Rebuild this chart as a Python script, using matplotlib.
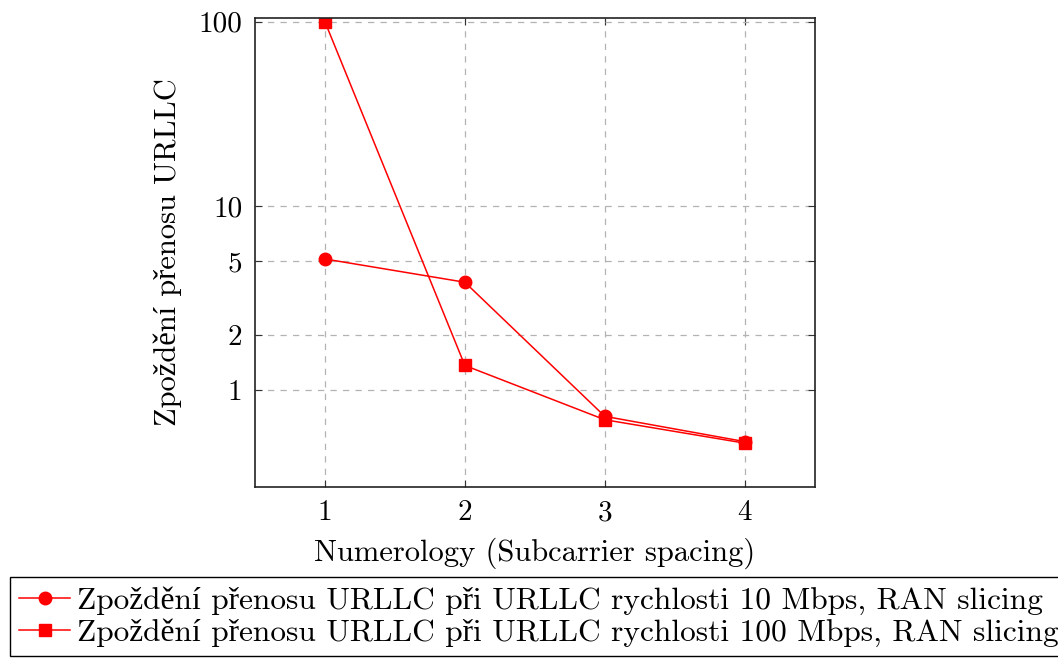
import matplotlib
matplotlib.use('Agg')
import matplotlib.pyplot as plt
import numpy as np

plt.rcParams['font.family'] = ['cmr10', 'Liberation Serif', 'DejaVu Serif']
plt.rcParams['mathtext.fontset'] = 'cm'
plt.rcParams['axes.formatter.use_mathtext'] = True

# data
numerology = [1, 2, 3, 4]
delay_10 = [5.15, 3.85, 0.72, 0.525]
delay_100 = [100, 1.36, 0.69, 0.515]
labels = ['Zpoždění přenosu URLLC při URLLC rychlosti 10 Mbps, RAN slicing',
          'Zpoždění přenosu URLLC při URLLC rychlosti 100 Mbps, RAN slicing']
yticks = [1, 2, 5, 10, 100]

fig = plt.figure(figsize=(10.58, 6.61), dpi=100)
ax = fig.add_axes([0.241, 0.263, 0.529, 0.710])

ax.plot(numerology, delay_10, c='red', lw=1.1, marker='o', ms=9, label=labels[0])
ax.plot(numerology, delay_100, c='red', lw=1.1, marker='s', ms=9, label=labels[1])

ax.set_yscale('log')
ax.set_xlim(0.5, 4.5)
ax.set_ylim(0.297, 105)
ax.set_xticks(numerology)
ax.set_xticklabels([str(n) for n in numerology])
ax.set_yticks(yticks)
ax.set_yticklabels([str(t) for t in yticks])
ax.yaxis.set_minor_locator(matplotlib.ticker.NullLocator())
ax.grid(True, ls=(0, (5, 5)), c='#b3b3b3', lw=0.9)
ax.set_axisbelow(True)
ax.tick_params(direction='in', top=True, right=True, length=5, labelsize=21, pad=9, color='#333333')
for s in ax.spines.values():
    s.set_linewidth(1.2)
    s.set_color('#222222')

ax.set_xlabel('Numerology (Subcarrier spacing)', fontsize=22, labelpad=8)
ax.set_ylabel('Zpoždění přenosu URLLC', fontsize=22, labelpad=12)

leg = fig.legend(loc='upper left', bbox_to_anchor=(10/1058, 1-577/661), fontsize=22.6,
                 handlelength=1.6, handletextpad=0.25, borderpad=0.3, labelspacing=0.1,
                 fancybox=False, edgecolor='black', framealpha=1, borderaxespad=0)
leg.get_frame().set_linewidth(1.0)

fig.savefig('out.png', dpi=100)
